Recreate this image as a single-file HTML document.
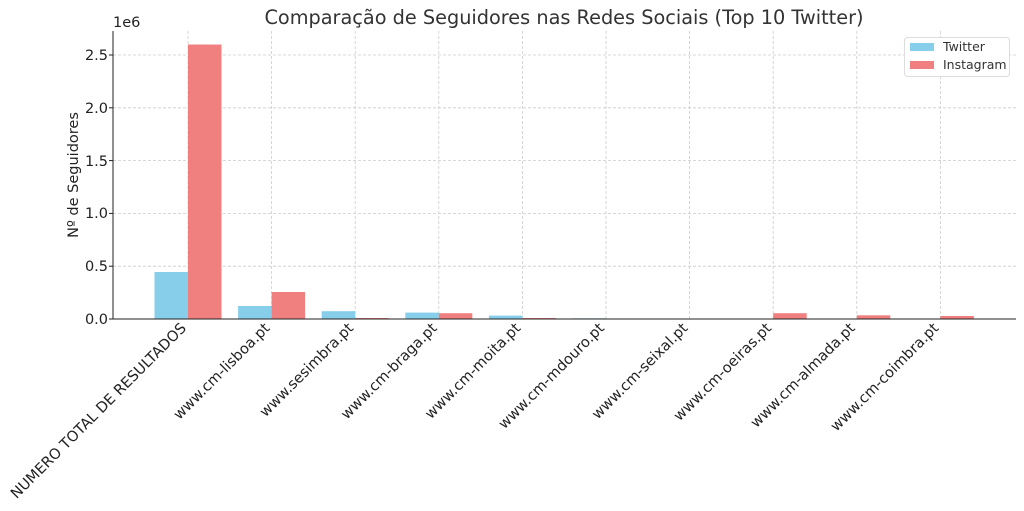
<!DOCTYPE html>
<html><head><meta charset="utf-8"><style>body{margin:0;background:#fff}svg{display:block}</style></head>
<body>
<svg width="1024" height="511" xmlns="http://www.w3.org/2000/svg" font-family="DejaVu Sans, Liberation Sans, sans-serif">
<rect width="1024" height="511" fill="#fff"/>
<text x="564" y="24" font-size="19.3" text-anchor="middle" fill="#333">Comparação de Seguidores nas Redes Sociais (Top 10 Twitter)</text>
<g stroke="#ccc" stroke-dasharray="3,2" stroke-width="0.8">
<line x1="113" x2="1016" y1="266.2" y2="266.2"/><line x1="113" x2="1016" y1="213.4" y2="213.4"/><line x1="113" x2="1016" y1="160.6" y2="160.6"/><line x1="113" x2="1016" y1="107.8" y2="107.8"/><line x1="113" x2="1016" y1="55" y2="55"/>
<line x1="188" x2="188" y1="31" y2="319"/><line x1="271.6" x2="271.6" y1="31" y2="319"/><line x1="355.2" x2="355.2" y1="31" y2="319"/><line x1="438.8" x2="438.8" y1="31" y2="319"/><line x1="522.4" x2="522.4" y1="31" y2="319"/><line x1="606" x2="606" y1="31" y2="319"/><line x1="689.6" x2="689.6" y1="31" y2="319"/><line x1="773.2" x2="773.2" y1="31" y2="319"/><line x1="856.8" x2="856.8" y1="31" y2="319"/><line x1="940.4" x2="940.4" y1="31" y2="319"/>
</g>
<g fill="#87ceeb">
<rect x="154.5" y="272" width="33.5" height="47"/>
<rect x="238.1" y="306" width="33.5" height="13"/>
<rect x="321.7" y="311.2" width="33.5" height="7.8"/>
<rect x="405.3" y="312.6" width="33.5" height="6.4"/>
<rect x="488.9" y="315.6" width="33.5" height="3.4"/>
<rect x="572.5" y="318.3" width="33.5" height="0.7"/>
</g>
<g fill="#f08080">
<rect x="188" y="44.5" width="33.5" height="274.5"/>
<rect x="271.6" y="292" width="33.5" height="27"/>
<rect x="355.2" y="318" width="33.5" height="1"/>
<rect x="438.8" y="313.2" width="33.5" height="5.8"/>
<rect x="522.4" y="318" width="33.5" height="1"/>
<rect x="773.2" y="313.2" width="33.5" height="5.8"/>
<rect x="856.8" y="315.3" width="33.5" height="3.7"/>
<rect x="940.4" y="316" width="33.5" height="3"/>
</g>
<g stroke="#222" stroke-width="1">
<line x1="113" x2="113" y1="31" y2="319"/><line x1="113" x2="1016" y1="319" y2="319"/>
</g>
<g stroke="#222"><line x1="109" x2="113" y1="319" y2="319"/><line x1="109" x2="113" y1="266.2" y2="266.2"/><line x1="109" x2="113" y1="213.4" y2="213.4"/><line x1="109" x2="113" y1="160.6" y2="160.6"/><line x1="109" x2="113" y1="107.8" y2="107.8"/><line x1="109" x2="113" y1="55" y2="55"/></g>
<g font-size="14.5" fill="#222" text-anchor="end">
<text x="108" y="324">0.0</text><text x="108" y="271">0.5</text><text x="108" y="218">1.0</text><text x="108" y="166">1.5</text><text x="108" y="113">2.0</text><text x="108" y="60">2.5</text>
</g>
<text x="113" y="27" font-size="14.5" fill="#222">1e6</text>
<text transform="translate(78,175) rotate(-90)" font-size="14.5" text-anchor="middle" fill="#222">Nº de Seguidores</text>
<g font-size="14.6" fill="#222" text-anchor="end">
<text transform="translate(187,329) rotate(-45)">NUMERO TOTAL DE RESULTADOS</text>
<text transform="translate(270.6,329) rotate(-45)">www.cm-lisboa.pt</text>
<text transform="translate(354.2,329) rotate(-45)">www.sesimbra.pt</text>
<text transform="translate(437.8,329) rotate(-45)">www.cm-braga.pt</text>
<text transform="translate(521.4,329) rotate(-45)">www.cm-moita.pt</text>
<text transform="translate(605,329) rotate(-45)">www.cm-mdouro.pt</text>
<text transform="translate(688.6,329) rotate(-45)">www.cm-seixal.pt</text>
<text transform="translate(772.2,329) rotate(-45)">www.cm-oeiras.pt</text>
<text transform="translate(855.8,329) rotate(-45)">www.cm-almada.pt</text>
<text transform="translate(939.4,329) rotate(-45)">www.cm-coimbra.pt</text>
</g>
<rect x="904.5" y="37.5" width="105" height="39" fill="#fff" stroke="#ddd" rx="3"/>
<rect x="910" y="43" width="24" height="8" fill="#87ceeb"/>
<text x="943" y="51" font-size="12.5" fill="#333">Twitter</text>
<rect x="910" y="61" width="24" height="8" fill="#f08080"/>
<text x="943" y="69" font-size="12.5" fill="#333">Instagram</text>
</svg>
</body></html>
